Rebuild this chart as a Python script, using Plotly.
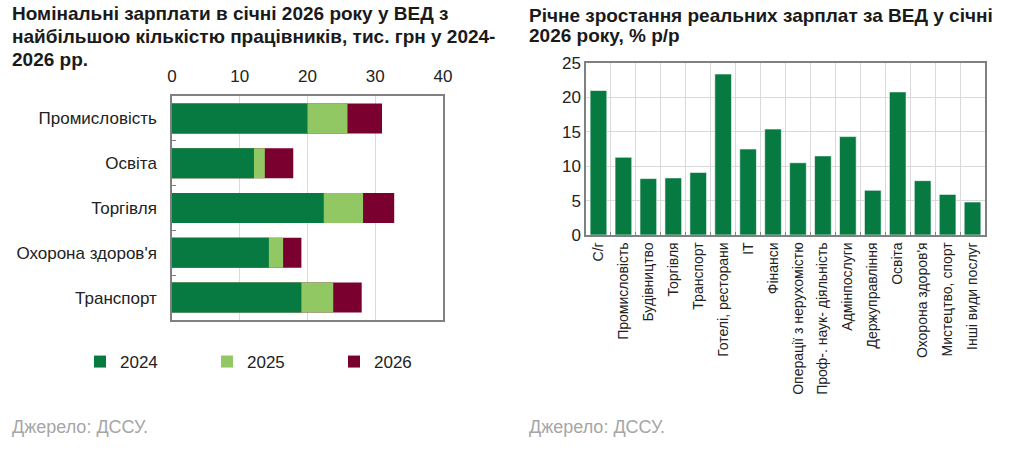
import plotly.graph_objects as go

# Left chart: nominal wages, thousand UAH
sectors_left = ["Промисловість", "Освіта", "Торгівля", "Охорона здоров'я", "Транспорт"]
wage_2024 = [20.0, 12.1, 22.4, 14.3, 19.1]
wage_2025 = [25.9, 13.7, 28.2, 16.4, 23.8]
wage_2026 = [31.0, 17.9, 32.8, 19.1, 28.0]

# Right chart: real wage growth, % y/y
sectors_right = ["С/г", "Промисловість", "Будівництво", "Торгівля", "Транспорт",
                 "Готелі, ресторани", "ІТ", "Фінанси", "Операції з нерухомістю",
                 "Проф-. наук- діяльність", "Адмінпослуги", "Держуправління",
                 "Освіта", "Охорона здоров'я", "Мистецтво, спорт", "Інші види послуг"]
real_growth = [21.0, 11.3, 8.2, 8.3, 9.1, 23.4, 12.5, 15.4, 10.5, 11.5, 14.3, 6.5,
               20.8, 7.9, 5.9, 4.8]

title_left = ["Номінальні зарплати в січні 2026 року у ВЕД з",
              "найбільшою кількістю працівників, тис. грн у 2024-",
              "2026 рр."]
title_right = ["Річне зростання реальних зарплат за ВЕД у січні",
               "2026 року, % р/р"]
source = "Джерело: ДССУ."

DARK = "#077A42"
LIGHT = "#92C864"
MAROON = "#7A0030"
FONT = "Liberation Sans"
GRID = "#d9d9d9"
FRAME = "#808080"
W, H = 1024, 458

fig = go.Figure()

# overlay: draw 2026 first so 2024 ends up on top
for name, vals, col, rank in [("2026", wage_2026, MAROON, 3),
                              ("2025", wage_2025, LIGHT, 2),
                              ("2024", wage_2024, DARK, 1)]:
    fig.add_trace(go.Bar(
        x=vals, y=sectors_left, orientation="h", name=name,
        marker=dict(color=col, line=dict(width=0)), width=0.67,
        legendrank=rank, xaxis="x", yaxis="y"))

fig.add_trace(go.Bar(
    x=sectors_right, y=real_growth,
    marker=dict(color=DARK, line=dict(color="white", width=0.6)),
    width=0.67, showlegend=False, xaxis="x2", yaxis="y2"))

annotations = []
for i, line in enumerate(title_left):
    annotations.append(dict(text="<b>" + line + "</b>", x=10 / W, y=1 - (14 + 22.5 * i) / H,
                            xref="paper", yref="paper", xanchor="left", yanchor="middle",
                            showarrow=False, font=dict(size=19, color="#1a1a1a")))
for i, line in enumerate(title_right):
    annotations.append(dict(text="<b>" + line + "</b>", x=527 / W, y=1 - (15 + 21 * i) / H,
                            xref="paper", yref="paper", xanchor="left", yanchor="middle",
                            showarrow=False, font=dict(size=19, color="#1a1a1a")))
for sx in [10, 527]:
    annotations.append(dict(text=source, x=sx / W, y=(H - 427) / H,
                            xref="paper", yref="paper", xanchor="left", yanchor="middle",
                            showarrow=False, font=dict(size=18, color="#a6a6a6")))

fig.update_layout(
    width=W, height=H, autosize=False,
    margin=dict(l=0, r=0, t=0, b=0),
    template="none",
    paper_bgcolor="white", plot_bgcolor="white",
    barmode="overlay",
    font=dict(family=FONT, size=17, color="#222222"),
    xaxis=dict(domain=[172 / W, 443 / W], anchor="y", side="top",
               range=[0, 40], dtick=10, showgrid=True, gridcolor=GRID,
               showline=True, linecolor=FRAME, linewidth=1.5, mirror=True,
               ticks="", zeroline=False, ticklabelstandoff=5, tickfont=dict(size=17)),
    yaxis=dict(domain=[(H - 320) / H, (H - 96) / H], anchor="x",
               autorange="reversed", showgrid=False, showline=True,
               linecolor=FRAME, linewidth=1.5, mirror=True,
               tickson="boundaries", ticks="inside", ticklen=4, tickcolor=FRAME,
               ticklabelstandoff=10, tickfont=dict(size=17)),
    xaxis2=dict(domain=[586 / W, 985 / W], anchor="y2",
                showgrid=True, gridcolor=GRID, tickson="boundaries",
                ticks="inside", ticklen=3, tickcolor=FRAME,
                showline=True, linecolor=FRAME, linewidth=1.5, mirror=True,
                tickangle=-90, tickfont=dict(size=14)),
    yaxis2=dict(domain=[(H - 235) / H, (H - 63) / H], anchor="x2",
                range=[0, 25], dtick=5, showgrid=True, gridcolor=GRID,
                showline=True, linecolor=FRAME, linewidth=1.5, mirror=True,
                ticks="", zeroline=False, tickfont=dict(size=17)),
    legend=dict(orientation="h", x=80 / W, y=(H - 362) / H,
                xanchor="left", yanchor="middle",
                entrywidth=82, entrywidthmode="pixels",
                font=dict(size=17, color="#222222"), bgcolor="rgba(0,0,0,0)"),
    annotations=annotations,
)

fig.write_html("out.html", config={"displayModeBar": False},
               post_script="document.body.style.margin='0';")
